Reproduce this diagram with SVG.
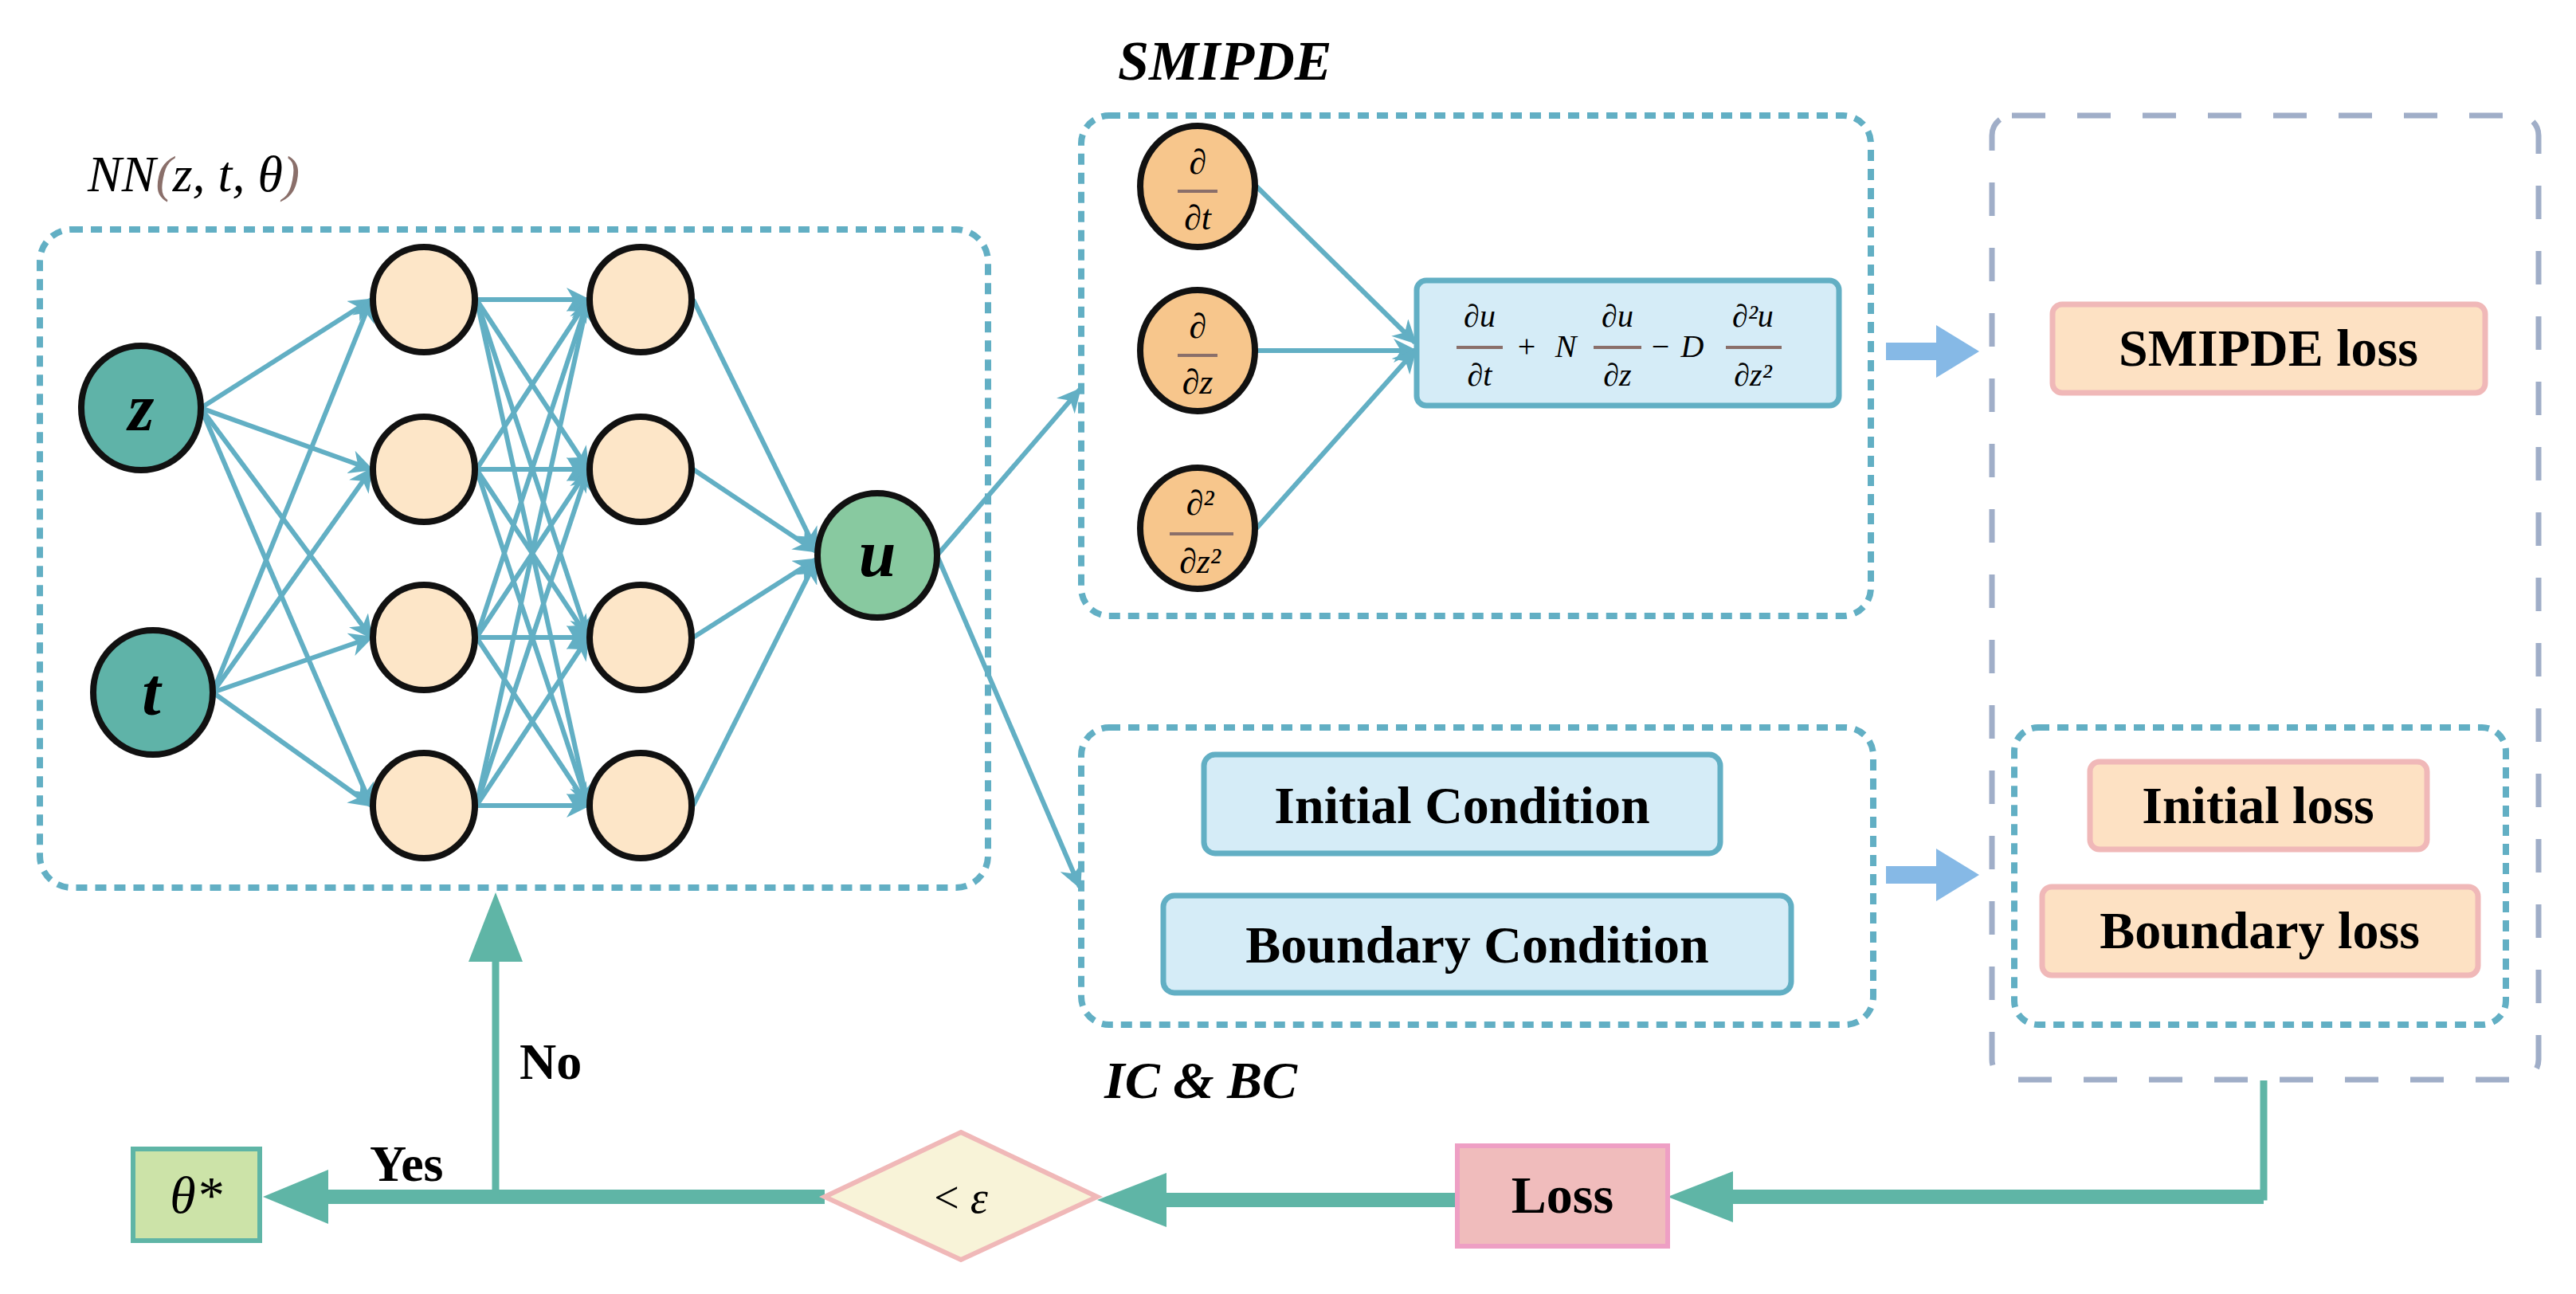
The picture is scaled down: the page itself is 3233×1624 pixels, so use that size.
<svg xmlns="http://www.w3.org/2000/svg" width="3233" height="1624" viewBox="0 0 3233 1624">
<style>
.dot{fill:none;stroke:#62afc4;stroke-width:8;stroke-dasharray:14 10}
.grey{fill:none;stroke:#a0aec8;stroke-width:7;stroke-dasharray:42 40}
.e{stroke:#62afc4;stroke-width:6;fill:none}
.nd{stroke:#111;stroke-width:8}
.b{font-family:"Liberation Serif",serif;font-weight:bold;fill:#000}
.m{font-family:"Liberation Serif","DejaVu Serif",serif;font-style:italic;fill:#000}
.fl{stroke:#8a6f6a;stroke-width:4}
.fb{stroke:#5fb5a6;fill:none}
</style>
<defs>
<marker id="a" viewBox="0 0 10 10" refX="9" refY="5" markerWidth="5" markerHeight="5" orient="auto" markerUnits="strokeWidth"><path d="M0,0L10,5L0,10L3,5z" fill="#62afc4"/></marker>
</defs>
<text class="m" x="110" y="240" font-size="64">NN<tspan fill="#8a6f6a">(</tspan>z, t, θ<tspan fill="#8a6f6a">)</tspan></text>
<rect class="dot" x="50" y="288" width="1190" height="826" rx="40"/>
<text class="m" x="1403" y="100" font-size="70" font-weight="bold">SMIPDE</text>
<rect class="dot" x="1357" y="145" width="991" height="628" rx="35"/>
<rect class="grey" x="2500" y="145" width="686" height="1210" rx="25"/>
<rect class="dot" x="1357" y="913" width="994" height="373" rx="35"/>
<rect class="dot" x="2528" y="913" width="617" height="373" rx="30"/>
<text class="m" x="1386" y="1378" font-size="66" font-weight="bold">IC &amp; BC</text>
<g id="connectors">
<g class="e" marker-end="url(#a)">
<line x1="252" y1="512" x2="466" y2="376"/><line x1="252" y1="512" x2="466" y2="589"/><line x1="252" y1="512" x2="466" y2="800"/><line x1="252" y1="512" x2="466" y2="1011"/>
<line x1="267" y1="869" x2="466" y2="376"/><line x1="267" y1="869" x2="466" y2="589"/><line x1="267" y1="869" x2="466" y2="800"/><line x1="267" y1="869" x2="466" y2="1011"/>
<line x1="598" y1="376" x2="738" y2="376"/><line x1="598" y1="376" x2="738" y2="589"/><line x1="598" y1="376" x2="738" y2="800"/><line x1="598" y1="376" x2="738" y2="1011"/>
<line x1="598" y1="589" x2="738" y2="376"/><line x1="598" y1="589" x2="738" y2="589"/><line x1="598" y1="589" x2="738" y2="800"/><line x1="598" y1="589" x2="738" y2="1011"/>
<line x1="598" y1="800" x2="738" y2="376"/><line x1="598" y1="800" x2="738" y2="589"/><line x1="598" y1="800" x2="738" y2="800"/><line x1="598" y1="800" x2="738" y2="1011"/>
<line x1="598" y1="1011" x2="738" y2="376"/><line x1="598" y1="1011" x2="738" y2="589"/><line x1="598" y1="1011" x2="738" y2="800"/><line x1="598" y1="1011" x2="738" y2="1011"/>
<line x1="870" y1="376" x2="1024" y2="690"/><line x1="870" y1="589" x2="1024" y2="692"/><line x1="870" y1="800" x2="1024" y2="702"/><line x1="870" y1="1011" x2="1024" y2="704"/>
<line x1="1176" y1="697" x2="1355" y2="489"/><line x1="1176" y1="697" x2="1355" y2="1113"/>
<line x1="1577" y1="234" x2="1776" y2="430"/><line x1="1577" y1="440" x2="1776" y2="440"/><line x1="1577" y1="663" x2="1776" y2="440"/>
</g>
<path d="M2367,430H2430V408L2484,441L2430,474V452H2367z" fill="#86b9e6"/>
<path d="M2367,1087H2430V1065L2484,1098L2430,1131V1109H2367z" fill="#86b9e6"/>
<path class="fb" stroke-width="9" d="M2841,1356V1502H2170"/>
<path class="fb" stroke-width="18" d="M2170,1502H2170"/>
<line x1="2841" y1="1502" x2="2170" y2="1502" stroke="#5fb5a6" stroke-width="18"/>
<path d="M2093,1502L2175,1470V1534z" fill="#5fb5a6"/>
<line x1="1829" y1="1506" x2="1460" y2="1506" stroke="#5fb5a6" stroke-width="18"/>
<path d="M1377,1506L1464,1472V1540z" fill="#5fb5a6"/>
<line x1="1035" y1="1502" x2="405" y2="1502" stroke="#5fb5a6" stroke-width="18"/>
<path d="M330,1502L412,1468V1536z" fill="#5fb5a6"/>
<line x1="622" y1="1502" x2="622" y2="1200" stroke="#5fb5a6" stroke-width="9"/>
<path d="M622,1120L588,1207H656z" fill="#5fb5a6"/>
</g>
<g id="z"><ellipse class="nd" cx="177" cy="512" rx="75" ry="78" fill="#5fb3a8"/><text class="b" x="177" y="540" font-size="84" font-style="italic" text-anchor="middle">z</text></g>
<g id="t"><ellipse class="nd" cx="192" cy="869" rx="75" ry="78" fill="#5fb3a8"/><text class="b" x="190" y="897" font-size="84" font-style="italic" text-anchor="middle">t</text></g>
<g id="h11"><ellipse class="nd" cx="532" cy="376" rx="64" ry="66" fill="#fde6c8"/></g>
<g id="h12"><ellipse class="nd" cx="532" cy="589" rx="64" ry="66" fill="#fde6c8"/></g>
<g id="h13"><ellipse class="nd" cx="532" cy="800" rx="64" ry="66" fill="#fde6c8"/></g>
<g id="h14"><ellipse class="nd" cx="532" cy="1011" rx="64" ry="66" fill="#fde6c8"/></g>
<g id="h21"><ellipse class="nd" cx="804" cy="376" rx="64" ry="66" fill="#fde6c8"/></g>
<g id="h22"><ellipse class="nd" cx="804" cy="589" rx="64" ry="66" fill="#fde6c8"/></g>
<g id="h23"><ellipse class="nd" cx="804" cy="800" rx="64" ry="66" fill="#fde6c8"/></g>
<g id="h24"><ellipse class="nd" cx="804" cy="1011" rx="64" ry="66" fill="#fde6c8"/></g>
<g id="u"><ellipse class="nd" cx="1101" cy="697" rx="75" ry="78" fill="#88c9a0"/><text class="b" x="1101" y="723" font-size="84" font-style="italic" text-anchor="middle">u</text></g>
<g id="dt"><ellipse class="nd" cx="1503" cy="234" rx="72" ry="76" fill="#f7c68c"/><text class="m" x="1503" y="218" font-size="44" text-anchor="middle">∂</text><line class="fl" x1="1478" y1="240" x2="1528" y2="240"/><text class="m" x="1503" y="288" font-size="44" text-anchor="middle">∂t</text></g>
<g id="dz"><ellipse class="nd" cx="1503" cy="440" rx="72" ry="76" fill="#f7c68c"/><text class="m" x="1503" y="424" font-size="44" text-anchor="middle">∂</text><line class="fl" x1="1478" y1="446" x2="1528" y2="446"/><text class="m" x="1503" y="494" font-size="44" text-anchor="middle">∂z</text></g>
<g id="dz2"><ellipse class="nd" cx="1503" cy="663" rx="72" ry="76" fill="#f7c68c"/><text class="m" x="1506" y="646" font-size="44" text-anchor="middle">∂²</text><line class="fl" x1="1468" y1="670" x2="1548" y2="670"/><text class="m" x="1506" y="719" font-size="44" text-anchor="middle">∂z²</text></g>
<g id="eq"><rect x="1778" y="352" width="530" height="157" rx="12" fill="#d5ecf7" stroke="#62afc4" stroke-width="7"/>
<g class="m" font-size="40" text-anchor="middle">
<text x="1857" y="410">∂u</text><line class="fl" x1="1828" y1="436" x2="1886" y2="436"/><text x="1857" y="484">∂t</text>
<text x="1916" y="448" font-style="normal">+</text><text x="1965" y="448">N</text>
<text x="2030" y="410">∂u</text><line class="fl" x1="2000" y1="436" x2="2060" y2="436"/><text x="2030" y="484">∂z</text>
<text x="2084" y="448" font-style="normal">−</text><text x="2124" y="448">D</text>
<text x="2200" y="410">∂²u</text><line class="fl" x1="2166" y1="436" x2="2236" y2="436"/><text x="2200" y="484">∂z²</text>
</g></g>
<g id="smipdeloss"><rect x="2576" y="382" width="543" height="111" rx="12" fill="#fde1c3" stroke="#f0b8b8" stroke-width="7"/><text class="b" x="2847" y="459" font-size="66" text-anchor="middle">SMIPDE loss</text></g>
<g id="ic"><rect x="1511" y="947" width="648" height="124" rx="14" fill="#d5ecf7" stroke="#62afc4" stroke-width="7"/><text class="b" x="1835" y="1033" font-size="66" text-anchor="middle">Initial Condition</text></g>
<g id="bc"><rect x="1460" y="1124" width="788" height="122" rx="14" fill="#d5ecf7" stroke="#62afc4" stroke-width="7"/><text class="b" x="1854" y="1208" font-size="66" text-anchor="middle">Boundary Condition</text></g>
<g id="iloss"><rect x="2623" y="956" width="423" height="110" rx="12" fill="#fde1c3" stroke="#f0b8b8" stroke-width="7"/><text class="b" x="2834" y="1033" font-size="66" text-anchor="middle">Initial loss</text></g>
<g id="bloss"><rect x="2563" y="1113" width="547" height="111" rx="12" fill="#fde1c3" stroke="#f0b8b8" stroke-width="7"/><text class="b" x="2836" y="1190" font-size="66" text-anchor="middle">Boundary loss</text></g>
<g id="loss"><rect x="1829" y="1438" width="264" height="126" fill="#f0bcbc" stroke="#ee9fc4" stroke-width="6"/><text class="b" x="1961" y="1522" font-size="66" text-anchor="middle">Loss</text></g>
<g id="cond"><path d="M1206,1421L1377,1502L1206,1581L1035,1502z" fill="#f8f3d8" stroke="#f0b8b8" stroke-width="6"/><text class="m" x="1206" y="1522" font-size="56" text-anchor="middle"><tspan font-style="normal">&lt;</tspan> ε</text></g>
<g id="theta"><rect x="167" y="1442" width="159" height="115" fill="#cce3a8" stroke="#5fb5a6" stroke-width="6"/><text class="m" x="246" y="1522" font-size="66" text-anchor="middle">θ*</text></g>
<text class="b" x="652" y="1354" font-size="64">No</text>
<text class="b" x="464" y="1482" font-size="64">Yes</text>
</svg>
